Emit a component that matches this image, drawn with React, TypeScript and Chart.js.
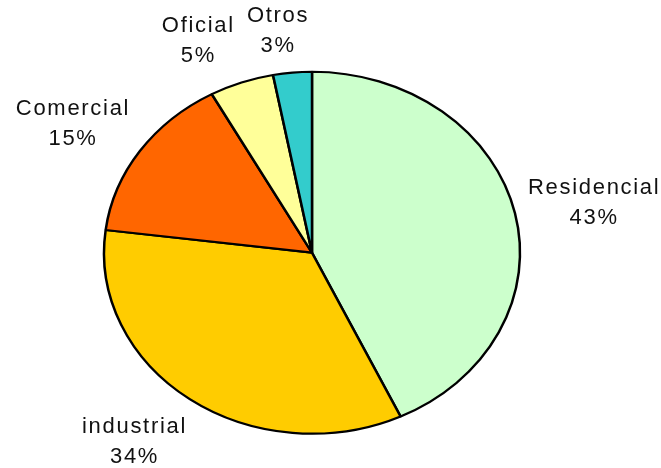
import React, { useEffect, useRef } from 'react';
import { Chart, registerables } from 'chart.js';

Chart.register(...registerables);

const categories = ['Residencial', 'industrial', 'Comercial', 'Oficial', 'Otros'];
const shares = [43, 34, 15, 5, 3];
const sliceColors = ['#CCFFCC', '#FFCC00', '#FF6600', '#FFFF99', '#33CCCC'];

const Y_SCALE = 0.87;
const FONT = '22px "Liberation Sans", Arial, sans-serif';
const LINE_H = 30;
const GAP = 14;
const NUDGE_X = [0, -17, -9, -27, -11];
const NUDGE_Y = [-2, 12, -6, -6, -4];

const ellipsePie = {
  id: 'ellipsePie',
  beforeDatasetsDraw(chart: any) {
    const el = chart.getDatasetMeta(0).data[0];
    if (!el) return;
    const { x, y } = el;
    const ctx = chart.ctx;
    ctx.save();
    ctx.translate(x, y);
    ctx.scale(1, Y_SCALE);
    ctx.translate(-x, -y);
  },
  afterDatasetsDraw(chart: any) {
    chart.ctx.restore();
  },
  afterDraw(chart: any) {
    const meta = chart.getDatasetMeta(0);
    const ctx = chart.ctx;
    const total = shares.reduce((a, b) => a + b, 0);
    ctx.save();
    ctx.font = FONT;
    ctx.fillStyle = '#111111';
    ctx.textAlign = 'center';
    ctx.textBaseline = 'middle';
    (ctx as any).letterSpacing = '1.7px';
    meta.data.forEach((el: any, i: number) => {
      const { x, y, startAngle, endAngle, outerRadius } = el.getProps(
        ['x', 'y', 'startAngle', 'endAngle', 'outerRadius'],
        true
      );
      const mid = (startAngle + endAngle) / 2;
      const c = Math.cos(mid);
      const s = Math.sin(mid);
      const px = x + outerRadius * c;
      const py = y + outerRadius * Y_SCALE * s;
      const l1 = categories[i];
      const l2 = Math.round((shares[i] / total) * 100) + '%';
      const w = Math.max(ctx.measureText(l1).width, ctx.measureText(l2).width);
      const h = LINE_H + 17;
      const tx = px + c * (w / 2 + GAP) + NUDGE_X[i] + 0.9;
      const ty = py + s * (h / 2 + GAP) + NUDGE_Y[i];
      ctx.fillText(l1, tx, ty - LINE_H / 2);
      ctx.fillText(l2, tx, ty + LINE_H / 2);
    });
    ctx.restore();
  },
};

export default function App() {
  const canvasRef = useRef<HTMLCanvasElement | null>(null);

  useEffect(() => {
    const canvas = canvasRef.current;
    if (!canvas) return;
    const chart = new Chart(canvas, {
      type: 'pie',
      data: {
        labels: categories,
        datasets: [
          {
            data: shares,
            backgroundColor: sliceColors,
            borderColor: '#000000',
            borderWidth: 2.5,
            radius: 208,
            clip: false,
          } as any,
        ],
      },
      options: {
        responsive: false,
        animation: false,
        events: [],
        layout: { padding: { left: 0, right: 37, top: 37.4, bottom: 0 } },
        plugins: {
          legend: { display: false },
          tooltip: { enabled: false },
        },
      } as any,
      plugins: [ellipsePie],
    });
    return () => chart.destroy();
  }, []);

  return (
    <div style={{ position: 'fixed', left: 0, top: 0, width: 661, height: 468, background: '#fff' }}>
      <canvas ref={canvasRef} width={661} height={468} style={{ display: 'block' }} />
    </div>
  );
}
